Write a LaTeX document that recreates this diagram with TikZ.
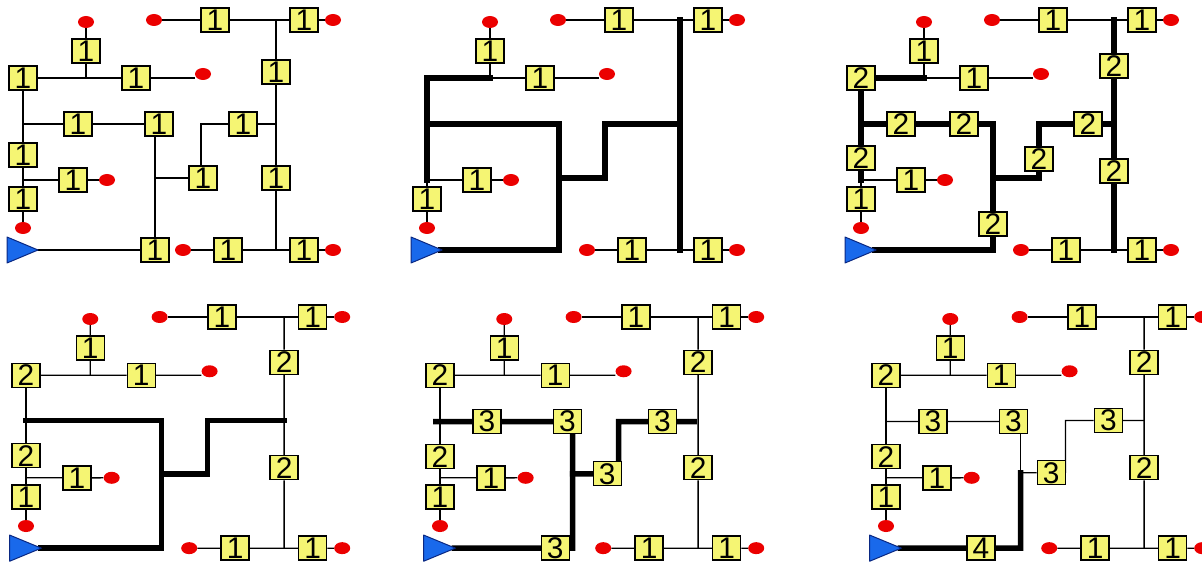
\documentclass[tikz,border=0pt]{standalone}
\usepackage{fontspec}
\newfontfamily\digitfont{Liberation Sans}
\usetikzlibrary{shapes.geometric}
\pgfdeclarelayer{bg}
\pgfsetlayers{bg,main}
\definecolor{boxyellow}{RGB}{245,245,115}
\definecolor{srcblue}{RGB}{25,105,235}
\definecolor{srcedge}{RGB}{10,40,130}
\definecolor{dotred}{RGB}{235,0,0}
\tikzset{
 numbox/.style={draw=black, line width=1.4bp, fill=boxyellow, minimum width=28bp, minimum height=24bp, inner sep=0pt, font=\digitfont\fontsize{30}{30}\selectfont},
 enddot/.style={ellipse, fill=dotred, minimum width=16bp, minimum height=12bp, inner sep=0pt},
 wire/.style={line width=1.3bp, black},
 heavy/.style={line width=5.5bp, black, line cap=rect},
 source/.style={fill=srcblue, draw=srcedge, line width=1bp, line join=round}
}
\newcommand\commonparts{%
 \node[enddot] (TLd) at (131,0) {};
 \node[numbox] (T1) at (192,0) {1};
 \coordinate (JT) at (253,0);
 \node[numbox] (T2) at (281,0) {1};
 \node[enddot] (TRd) at (310,0) {};
 \node[enddot] (BLd) at (160,230) {};
 \node[numbox] (B1) at (205,230) {1};
 \coordinate (JB) at (253,230);
 \node[numbox] (B2) at (281,230) {1};
 \node[enddot] (BRd) at (310,230) {};
 \coordinate (JU) at (63,58);
 \node[numbox] (U) at (63,31) {1};
 \node[enddot] (Ud) at (63,2) {};
 \node[numbox] (M) at (113,58) {1};
 \node[enddot] (Md) at (180,54) {};
 \coordinate (JL) at (0,160);
 \node[numbox] (LM) at (50,160) {1};
 \node[enddot] (LMd) at (84,160) {};
 \node[numbox] (L3) at (0,179) {1};
 \node[enddot] (L3d) at (0,208) {};
 \path[source] (-16,217) -- (15,230) -- (-16,243) -- cycle;
 \coordinate (S0) at (14,230);
 \begin{pgfonlayer}{bg}
 \draw[wire] (TLd) -- (T1) -- (T2) -- (TRd);
 \draw[wire] (BLd) -- (B1) -- (B2) -- (BRd);
 \draw[wire] (Ud) -- (U) -- (JU) -- (M) -- (M -| Md.west);
 \draw[wire] (JL) -- (LM) -- (LMd);
 \draw[wire] (JL) -- (L3) -- (L3d);
 \end{pgfonlayer}}
\begin{document}
\begin{tikzpicture}[x=1bp,y=-1bp]
\useasboundingbox (0,0) rectangle (1202,563);
\clip (0,0) rectangle (1202,563);
% ---------------- panel 1
\begin{scope}[shift={(23,20)}, name prefix=p1-]
 \commonparts
 \node[numbox] (TL) at (0,58) {1};
 \node[numbox] (L2) at (0,135) {1};
 \node[numbox] (LB) at (55,104) {1};
 \node[numbox] (C) at (136,104) {1};
 \node[numbox] (S) at (132,230) {1};
 \node[numbox] (RC) at (180,158) {1};
 \node[numbox] (RB) at (220,104) {1};
 \node[numbox] (R1) at (253,52) {1};
 \node[numbox] (R2) at (253,158) {1};
 \coordinate (JLB) at (0,104);
 \coordinate (JC) at (132,158);
 \coordinate (KR) at (178,104);
 \coordinate (JR) at (253,104);
 \begin{pgfonlayer}{bg}
 \draw[wire] (TL) -- (JU);
 \draw[wire] (TL) -- (L2) -- (JL);
 \draw[wire] (JLB) -- (LB) -- (C);
 \draw[wire] (C.south -| S) -- (S);
 \draw[wire] (S0) -- (S);
 \draw[wire] (JC) -- (RC);
 \draw[wire] (RC.north -| KR) -- (KR) -- (RB) -- (JR);
 \draw[wire] (JT) -- (R1) -- (R2) -- (JB);
 \end{pgfonlayer}
\end{scope}
% ---------------- panel 2
\begin{scope}[shift={(427,20)}, name prefix=p2-]
 \commonparts
 \coordinate (KTL) at (0,58);
 \coordinate (JLB) at (0,104);
 \coordinate (KC) at (132,104);
 \coordinate (JC) at (132,158);
 \coordinate (KS) at (132,230);
 \coordinate (KR) at (178,104);
 \coordinate (KRb) at (178,158);
 \coordinate (JR) at (253,104);
 \begin{pgfonlayer}{bg}
 \draw[heavy] (JT) -- (JB);
 \draw[heavy] (JR) -- (KR) -- (KRb) -- (JC);
 \draw[heavy] (JLB) -- (KC) -- (KS) -- (S0);
 \draw[heavy] (JU) -- (KTL) -- (JL);
 \end{pgfonlayer}
\end{scope}
% ---------------- panel 3
\begin{scope}[shift={(861,20)}, name prefix=p3-]
 \commonparts
 \node[numbox] (TL) at (0,58) {2};
 \node[numbox] (L2) at (0,138) {2};
 \node[numbox] (LB) at (40,104) {2};
 \node[numbox] (C) at (103,104) {2};
 \node[numbox] (S) at (132,204) {2};
 \node[numbox] (RC) at (178,139) {2};
 \node[numbox] (RB) at (227,104) {2};
 \node[numbox] (R1) at (253,46) {2};
 \node[numbox] (R2) at (253,151) {2};
 \coordinate (JLB) at (0,104);
 \coordinate (KC) at (132,104);
 \coordinate (JC) at (132,158);
 \coordinate (KS) at (132,230);
 \coordinate (KR) at (178,104);
 \coordinate (KRb) at (178,158);
 \coordinate (JR) at (253,104);
 \begin{pgfonlayer}{bg}
 \draw[heavy] (JT) -- (R1) -- (R2) -- (JB);
 \draw[heavy] (JR) -- (RB) -- (KR) -- (RC) -- (KRb) -- (JC);
 \draw[heavy] (TL) -- (JU);
 \draw[heavy] (TL) -- (L2) -- (JL);
 \draw[heavy] (JLB) -- (LB) -- (C) -- (KC) -- (S) -- (KS) -- (S0);
 \end{pgfonlayer}
\end{scope}
% ---------------- panel 4
\begin{scope}[shift={(26,317)}, xscale=1.02, yscale=1.005, name prefix=p4-]
 \commonparts
 \node[numbox] (TL) at (0,58) {2};
 \node[numbox] (L2) at (0,138) {2};
 \node[numbox] (R1) at (253,45) {2};
 \node[numbox] (R2) at (253,150) {2};
 \coordinate (JLB) at (0,103);
 \coordinate (KC) at (133,103);
 \coordinate (JC) at (133,156);
 \coordinate (KS) at (133,230);
 \coordinate (KR) at (178,103);
 \coordinate (KRb) at (178,156);
 \coordinate (JR) at (253,103);
 \begin{pgfonlayer}{bg}
 \draw[wire] (TL) -- (JU);
 \draw[wire] (TL) -- (L2) -- (JL);
 \draw[wire] (JT) -- (R1) -- (R2) -- (JB);
 \draw[heavy] (JR) -- (KR) -- (KRb) -- (JC);
 \draw[heavy] (JLB) -- (KC) -- (KS) -- (S0);
 \end{pgfonlayer}
\end{scope}
% ---------------- panel 5
\begin{scope}[shift={(440,317)}, xscale=1.02, yscale=1.005, name prefix=p5-]
 \commonparts
 \node[numbox] (TL) at (0,58) {2};
 \node[numbox] (L2) at (0,139) {2};
 \node[numbox] (R1) at (253,45) {2};
 \node[numbox] (R2) at (253,150) {2};
 \node[numbox] (RB) at (218,104) {3};
 \node[numbox] (RC) at (164,156) {3};
 \node[numbox] (C) at (125,104) {3};
 \node[numbox] (LB) at (46,104) {3};
 \node[numbox] (S) at (113,230) {3};
 \coordinate (JRg) at (249,104);
 \coordinate (KR) at (175,104);
 \coordinate (JC) at (130,156);
 \coordinate (KC) at (130,104);
 \coordinate (KS) at (130,230);
 \coordinate (JLB) at (-4,104);
 \begin{pgfonlayer}{bg}
 \draw[wire] (TL) -- (JU);
 \draw[wire] (TL) -- (L2) -- (JL);
 \draw[wire] (JT) -- (R1) -- (R2) -- (JB);
 \draw[heavy] (JRg) -- (RB) -- (KR) -- (KR |- RC);
 \draw[heavy] (RC) -- (JC);
 \draw[heavy] (C.south -| KC) -- (KS) -- (S);
 \draw[heavy] (S) -- (S0);
 \draw[heavy] (JLB) -- (LB) -- (C);
 \end{pgfonlayer}
\end{scope}
% ---------------- panel 6
\begin{scope}[shift={(886,317)}, xscale=1.02, yscale=1.005, name prefix=p6-]
 \commonparts
 \node[numbox] (TL) at (0,58) {2};
 \node[numbox] (L2) at (0,139) {2};
 \node[numbox] (R1) at (253,45) {2};
 \node[numbox] (R2) at (253,150) {2};
 \node[numbox] (RB) at (218,103) {3};
 \node[numbox] (RC) at (162,155) {3};
 \node[numbox] (C) at (125,104) {3};
 \node[numbox] (LB) at (46,104) {3};
 \node[numbox] (S) at (93,230) {4};
 \coordinate (JR) at (253,103);
 \coordinate (KR) at (176,103);
 \coordinate (JC) at (132,155);
 \coordinate (KC) at (132,104);
 \coordinate (KS) at (132,230);
 \coordinate (JLB) at (0,104);
 \begin{pgfonlayer}{bg}
 \draw[wire] (TL) -- (JU);
 \draw[wire] (TL) -- (L2) -- (JL);
 \draw[wire] (JT) -- (R1) -- (R2) -- (JB);
 \draw[wire] (JR) -- (RB) -- (KR) -- (KR |- RC);
 \draw[wire] (RC) -- (JC);
 \draw[wire] (C.south -| KC) -- (JC);
 \draw[wire] (JLB) -- (LB) -- (C);
 \draw[heavy] (JC) -- (KS) -- (S);
 \draw[heavy] (S) -- (S0);
 \end{pgfonlayer}
\end{scope}
\end{tikzpicture}
\end{document}
